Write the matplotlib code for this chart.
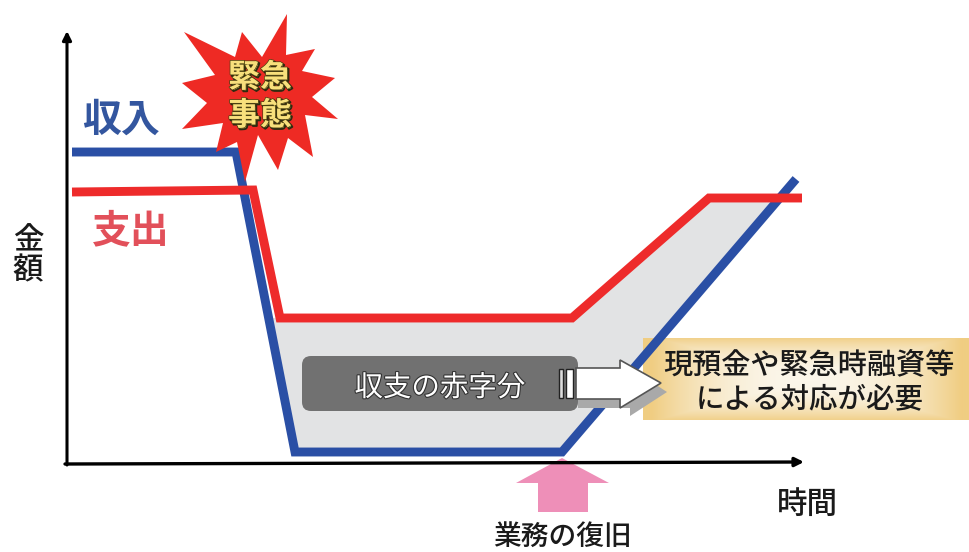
import matplotlib
matplotlib.use("Agg")
import matplotlib.pyplot as plt
import matplotlib.patheffects as pe
import numpy as np
from matplotlib.colors import LinearSegmentedColormap
from matplotlib.patches import FancyBboxPatch, Polygon

plt.rcParams['font.family'] = ['Noto Sans CJK JP', 'DejaVu Sans']

# 収入・支出の折れ線 (横 = 時間, 縦 = 金額, y は下向き)
income_x = [72, 236, 295, 562, 796]
income_y = [152, 152, 452, 452, 179]
expense_x = [72, 253, 280, 572, 709, 802]
expense_y = [192, 190, 318, 318, 198, 198]

# 赤字分の領域
deficit_x = [272, 572, 709, 782, 562, 295]
deficit_y = [318, 318, 198, 198, 452, 452]

star_x = [287, 286, 315, 302, 335, 312, 338, 305, 313, 288, 278, 258, 245, 237,
          216, 223, 182, 207, 182, 215, 184, 235, 242, 262]
star_y = [14, 55, 49, 71, 78, 97, 119, 115, 157, 138, 170, 135, 182, 142,
          152, 123, 129, 103, 83, 75, 32, 57, 32, 57]

BLUE = '#2a4fa5'
RED = '#ee2b2b'
INK = '#1a1a1a'

fig = plt.figure(figsize=(9.7, 5.52), dpi=100)
ax = fig.add_axes([0, 0, 1, 1])

ax.add_patch(Polygon(np.column_stack([deficit_x, deficit_y]), fc='#e2e3e4', ec='none', zorder=1))

# 座標軸
ax.annotate('', xy=(67, 31), xytext=(67, 465), zorder=3,
            arrowprops=dict(arrowstyle='-|>', color='black', lw=2.2, mutation_scale=13, shrinkA=0, shrinkB=0))
ax.annotate('', xy=(804, 462), xytext=(65, 464), zorder=3,
            arrowprops=dict(arrowstyle='-|>', color='black', lw=2.4, mutation_scale=13, shrinkA=0, shrinkB=0))

ax.plot(income_x, income_y, color=BLUE, lw=6.4, solid_joinstyle='miter', solid_capstyle='butt', zorder=4)
ax.plot(expense_x, expense_y, color=RED, lw=6.4, solid_joinstyle='miter', solid_capstyle='butt', zorder=5)

# 緊急事態の爆発マーク
ax.add_patch(Polygon(np.column_stack([star_x, star_y]), fc='#ee2a24', ec='none', zorder=6))
emboss = [pe.Stroke(linewidth=1.4, foreground='#2e2a10', offset=(1, -1)),
          pe.withStroke(linewidth=1.0, foreground='#4a4010')]
ax.text(260, 78, '緊急', fontsize=23, color='#f8e07c', ha='center', va='center',
        fontweight='bold', path_effects=emboss, zorder=7)
ax.text(260, 116, '事態', fontsize=23, color='#f8e07c', ha='center', va='center',
        fontweight='bold', path_effects=emboss, zorder=7)

ax.text(121, 120, '収入', fontsize=28, color='#33569f', ha='center', va='center', fontweight='bold')
ax.text(131, 231, '支出', fontsize=28, color='#e2505a', ha='center', va='center', fontweight='bold')
ax.text(28, 256, '金\n額', fontsize=22, color=INK, ha='center', va='center', linespacing=0.95, fontweight='medium')
ax.text(807, 504, '時間', fontsize=22, color=INK, ha='center', va='center', fontweight='medium')
ax.text(563, 536, '業務の復旧', fontsize=20, color=INK, ha='center', va='center', fontweight='medium')

# 業務の復旧を指す矢印
ax.add_patch(Polygon([(562, 458), (609, 483), (588, 483), (588, 512), (538, 512), (538, 483), (516, 483)],
                     fc='#ee8fb8', ec='none', zorder=2))

# 必要な対応の枠 (中央が淡いグラデーション)
u, v = np.meshgrid(np.linspace(-1, 1, 330), np.linspace(-1, 1, 82))
edge = np.clip(np.maximum(np.abs(u) * 1.05, np.abs(v) * 0.95), 0, 1) ** 2.2
sand = LinearSegmentedColormap.from_list('sand', ['#fbf6ea', '#f0cd82'])
ax.imshow(edge, extent=(643, 970, 420, 338), cmap=sand, vmin=0, vmax=1, aspect='auto', zorder=3)
ax.text(809, 365, '現預金や緊急時融資等', fontsize=21, color=INK, ha='center', va='center', zorder=9, fontweight='medium')
ax.text(810, 400, 'による対応が必要', fontsize=20.5, color=INK, ha='center', va='center', zorder=9, fontweight='medium')

# 赤字分のラベルと白抜き矢印
ax.add_patch(FancyBboxPatch((302, 356), 276, 55, boxstyle='round,pad=0,rounding_size=9',
                            fc='#717171', ec='none', zorder=6))
ax.text(440, 388, '収支の赤字分', fontsize=20.5, color='white', ha='center', va='center', zorder=8,
        path_effects=[pe.withStroke(linewidth=1.6, foreground='#333333')])

ax.add_patch(Polygon([(578, 378), (630, 378), (630, 368), (667, 392), (630, 416), (630, 408), (578, 408)],
                     fc='#a9a9a9', ec='none', zorder=5))
ax.add_patch(Polygon([(576, 368), (620, 368), (620, 360), (661, 383), (620, 408), (620, 399), (576, 399)],
                     fc='white', ec='#555555', lw=1.2, zorder=7))
ax.add_patch(Polygon([(559, 369), (563, 369), (563, 398), (559, 398)], fc='#dddddd', ec='#222222', lw=1, zorder=7))
ax.add_patch(Polygon([(566, 369), (573, 369), (573, 398), (566, 398)], fc='white', ec='#222222', lw=1, zorder=7))

ax.set_xlim(0, 970)
ax.set_ylim(552, 0)
ax.axis('off')

fig.savefig('out.png', dpi=100)
